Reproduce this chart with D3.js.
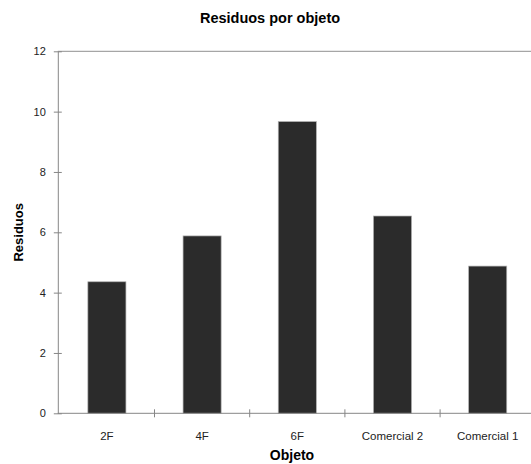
<!DOCTYPE html>
<html>
<head>
<meta charset="utf-8">
<script src="https://cdn.jsdelivr.net/npm/d3@7"></script>
<style>
  body { margin: 0; background: #fff; }
  svg text { font-family: "Liberation Sans", Arial, sans-serif; }
</style>
</head>
<body>
<svg width="531" height="464"></svg>
<script>
var categories = ["2F", "4F", "6F", "Comercial 2", "Comercial 1"];
var values = [4.36, 5.88, 9.67, 6.54, 4.88];
var yTicks = [0, 2, 4, 6, 8, 10, 12];

var svg = d3.select("svg"),
    margin = {top: 51.3, left: 57.8, bottom: 50.7},
    width = 476,
    height = +svg.attr("height") - margin.top - margin.bottom,
    g = svg.append("g").attr("transform", "translate(" + margin.left + "," + margin.top + ")");

var x = d3.scaleBand()
    .domain(categories)
    .range([1.5, width + 1.5])
    .paddingInner(0.6)
    .paddingOuter(0.3);

var y = d3.scaleLinear()
    .domain([0, 12])
    .range([height, 0]);

// top line at 12
g.append("line")
    .attr("x1", 0).attr("x2", width)
    .attr("y1", y(12)).attr("y2", y(12))
    .attr("stroke", "#a6a6a6").attr("stroke-width", 1.3);

g.selectAll(".bar")
    .data(values)
  .enter().append("rect")
    .attr("class", "bar")
    .attr("x", function(d, i) { return x(categories[i]); })
    .attr("width", x.bandwidth())
    .attr("y", function(d) { return y(d); })
    .attr("height", function(d) { return height - y(d); })
    .attr("fill", "#2b2b2b")
    .attr("stroke", "#b0b0b0")
    .attr("stroke-width", 0.7);

// y axis
var yAxis = g.append("g")
    .call(d3.axisLeft(y).tickValues(yTicks).tickSize(0).tickPadding(12));
yAxis.select(".domain").attr("stroke", "#868686");
yAxis.selectAll(".tick").append("line")
    .attr("x1", -4).attr("x2", 4)
    .attr("stroke", "#868686");
yAxis.selectAll("text").attr("font-size", 11).attr("fill", "#222");

// x axis with boundary ticks between categories
var step = x.step();
var xAxis = g.append("g").attr("transform", "translate(0," + height + ")");
xAxis.append("line")
    .attr("x1", 0).attr("x2", width)
    .attr("stroke", "#868686");
xAxis.selectAll(".btick")
    .data(categories.slice(1))
  .enter().append("line")
    .attr("class", "btick")
    .attr("x1", function(d) { return x(d) - (step - x.bandwidth()) / 2; })
    .attr("x2", function(d) { return x(d) - (step - x.bandwidth()) / 2; })
    .attr("y1", -4).attr("y2", 4)
    .attr("stroke", "#868686");
xAxis.selectAll(".xl")
    .data(categories)
  .enter().append("text")
    .attr("class", "xl")
    .attr("x", function(d) { return x(d) + x.bandwidth() / 2; })
    .attr("y", 26.5)
    .attr("text-anchor", "middle")
    .attr("font-size", 11.5)
    .attr("fill", "#222")
    .text(function(d) { return d; });

svg.append("text")
    .attr("x", 270)
    .attr("y", 23)
    .attr("text-anchor", "middle")
    .attr("font-size", 14.5)
    .attr("font-weight", "bold")
    .text("Residuos por objeto");

svg.append("text")
    .attr("x", 292)
    .attr("y", 460)
    .attr("text-anchor", "middle")
    .attr("font-size", 14)
    .attr("font-weight", "bold")
    .text("Objeto");

svg.append("text")
    .attr("transform", "translate(23," + (margin.top + height / 2) + ") rotate(-90)")
    .attr("text-anchor", "middle")
    .attr("font-size", 13)
    .attr("font-weight", "bold")
    .text("Residuos");
</script>
</body>
</html>
